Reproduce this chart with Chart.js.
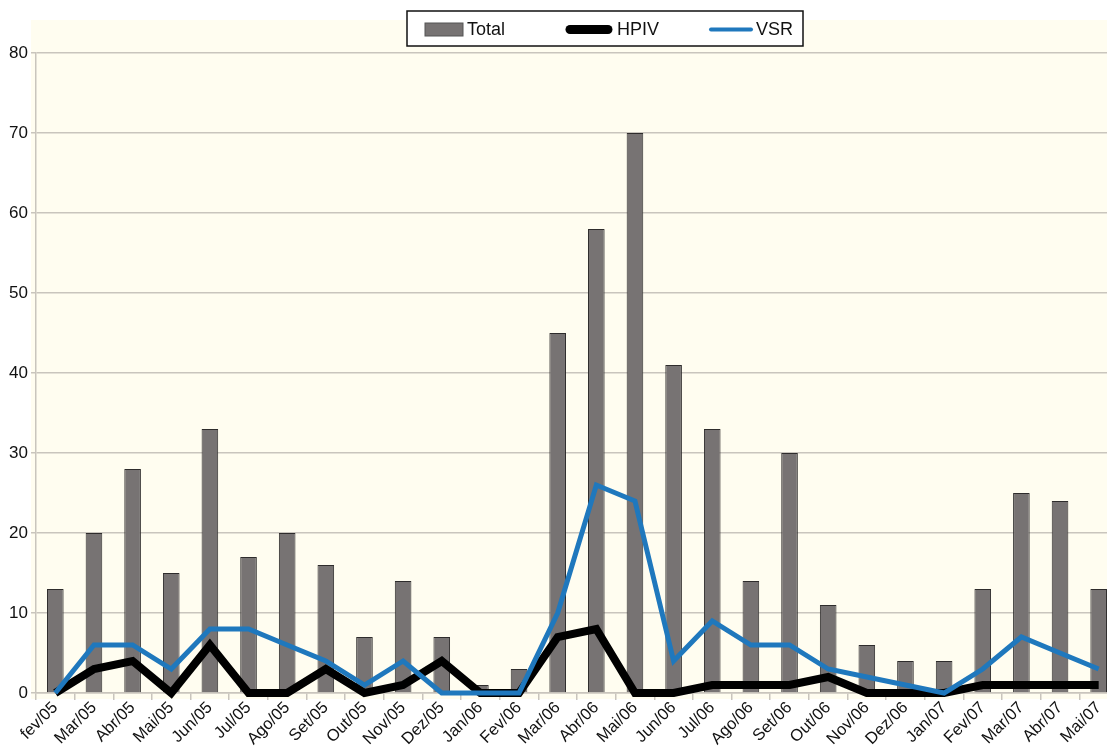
<!DOCTYPE html>
<html>
<head>
<meta charset="utf-8">
<script src="https://cdn.jsdelivr.net/npm/chart.js@4.4.1/dist/chart.umd.min.js"></script>
<style>
  html, body { margin: 0; padding: 0; background: #ffffff; overflow: hidden; }
  #wrap { width: 1107px; height: 747px; overflow: hidden; }
</style>
</head>
<body>
<div id="wrap"><canvas id="chart" width="1118" height="747"></canvas></div>
<script>
// Dados
const meses = ['fev/05', 'Mar/05', 'Abr/05', 'Mai/05', 'Jun/05', 'Jul/05', 'Ago/05', 'Set/05', 'Out/05', 'Nov/05', 'Dez/05',
  'Jan/06', 'Fev/06', 'Mar/06', 'Abr/06', 'Mai/06', 'Jun/06', 'Jul/06', 'Ago/06', 'Set/06', 'Out/06', 'Nov/06', 'Dez/06',
  'Jan/07', 'Fev/07', 'Mar/07', 'Abr/07', 'Mai/07'];
const total = [13, 20, 28, 15, 33, 17, 20, 16, 7, 14, 7, 1, 3, 45, 58, 70, 41, 33, 14, 30, 11, 6, 4, 4, 13, 25, 24, 13];
const hpiv = [0, 3, 4, 0, 6, 0, 0, 3, 0, 1, 4, 0, 0, 7, 8, 0, 0, 1, 1, 1, 2, 0, 0, 0, 1, 1, 1, 1];
const vsr = [0, 6, 6, 3, 8, 8, 6, 4, 1, 4, 0, 0, 0, 10, 26, 24, 4, 9, 6, 6, 3, 2, 1, 0, 3, 7, 5, 3];
const yMin = 0, yMax = 80, yStep = 10;

const FONT = '"Liberation Sans", Arial, sans-serif';
const gridCor = '#c9c5bd';

// Fundo creme e legenda com moldura
const fundoPlugin = {
  id: 'fundo',
  beforeDraw(chart) {
    const c = chart.ctx;
    const a = chart.chartArea;
    c.save();
    c.fillStyle = '#fffdf0';
    c.fillRect(a.left - 5, 20, a.right - a.left + 5, a.bottom - 20 + 6);
    c.restore();
  },
  afterDraw(chart) {
    const c = chart.ctx;
    const ds = chart.data.datasets;
    c.save();
    c.fillStyle = '#ffffff';
    c.fillRect(407, 11, 396, 35);
    c.strokeStyle = '#111';
    c.lineWidth = 1.5;
    c.strokeRect(407, 11, 396, 35);
    c.font = '18px ' + FONT;
    c.textBaseline = 'middle';
    c.fillStyle = '#111';
    // Total
    c.fillStyle = ds[0].backgroundColor;
    c.fillRect(425, 23, 38, 13);
    c.strokeStyle = '#555';
    c.lineWidth = 1;
    c.strokeRect(425, 23, 38, 13);
    c.fillStyle = '#111';
    c.fillText(ds[0].label, 467, 30);
    // HPIV
    c.lineCap = 'round';
    c.strokeStyle = ds[1].borderColor;
    c.lineWidth = 9;
    c.beginPath(); c.moveTo(570, 29.5); c.lineTo(608, 29.5); c.stroke();
    c.fillText(ds[1].label, 617, 30);
    // VSR
    c.strokeStyle = ds[2].borderColor;
    c.lineWidth = 4;
    c.beginPath(); c.moveTo(711, 29.5); c.lineTo(751, 29.5); c.stroke();
    c.fillStyle = '#111';
    c.fillText(ds[2].label, 756, 30);
    c.restore();
  }
};

const ctx = document.getElementById('chart').getContext('2d');
const grafico = new Chart(ctx, {
  type: 'bar',
  data: {
    labels: meses,
    datasets: [{
      type: 'bar',
      label: 'Total',
      data: total,
      backgroundColor: '#777373',
      borderColor: '#2e2c2c',
      borderWidth: 1,
      categoryPercentage: 1,
      barPercentage: 0.43,
      order: 3
    }, {
      type: 'line',
      label: 'HPIV',
      data: hpiv,
      borderColor: '#000000',
      borderWidth: 8,
      pointRadius: 0,
      tension: 0,
      clip: 8,
      order: 2
    }, {
      type: 'line',
      label: 'VSR',
      data: vsr,
      borderColor: '#1f78bd',
      borderWidth: 5,
      pointRadius: 0,
      tension: 0,
      clip: 8,
      order: 1
    }]
  },
  options: {
    responsive: false,
    animation: false,
    layout: { padding: { top: 53, right: 0, left: 0, bottom: 0 } },
    plugins: {
      legend: { display: false },
      tooltip: { enabled: false }
    },
    scales: {
      x: {
        offset: true,
        grid: { offset: true, drawOnChartArea: false, drawTicks: true, tickLength: 7, color: gridCor, lineWidth: 1.5 },
        border: { color: gridCor, width: 1.5 },
        ticks: {
          color: '#111',
          font: { family: FONT, size: 16.5 },
          maxRotation: 45,
          minRotation: 45,
          autoSkip: false,
          padding: -2
        },
        afterFit(scale) { scale.height = 54; }
      },
      y: {
        min: yMin,
        max: yMax,
        ticks: {
          stepSize: yStep,
          color: '#111',
          font: { family: FONT, size: 17 },
          padding: 3
        },
        grid: { color: gridCor, lineWidth: 1.5, tickLength: 5 },
        border: { color: gridCor, width: 1.5 },
        afterFit(scale) { scale.width = 36; }
      }
    }
  },
  plugins: [fundoPlugin]
});
</script>
</body>
</html>
